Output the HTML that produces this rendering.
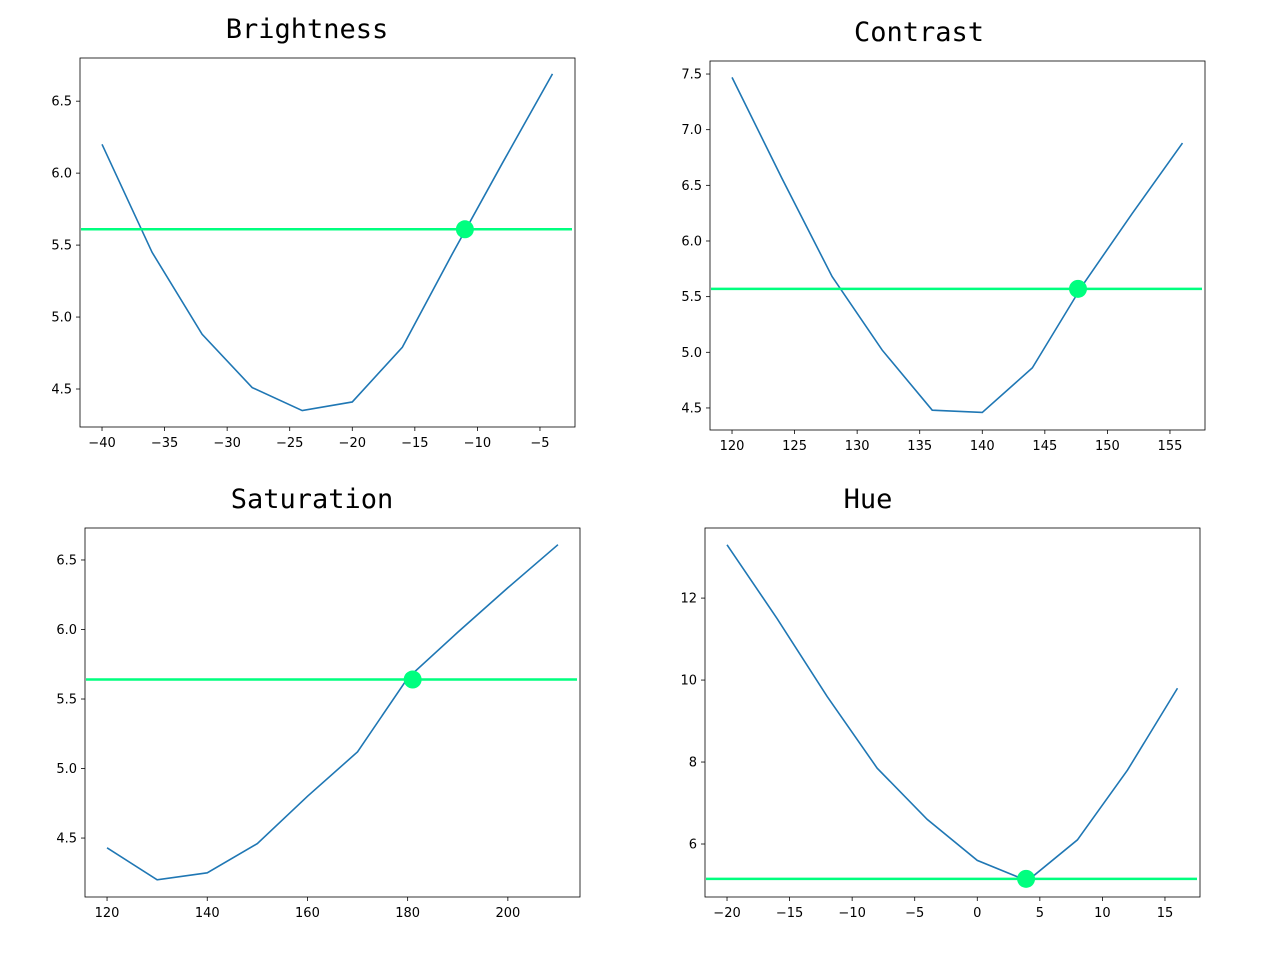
<!DOCTYPE html>
<html><head><meta charset="utf-8"><style>
body{margin:0;background:#fff;}
svg text{font-family:"DejaVu Sans","Liberation Sans",sans-serif;}
.t{font-family:"DejaVu Sans Mono","Liberation Mono",monospace !important;font-size:27px;}
</style></head><body>
<svg id="c" width="1280" height="960" xmlns="http://www.w3.org/2000/svg"></svg>
<script>
const bX=[-40,-36,-32,-28,-24,-20,-16,-12,-8,-4];
const bY=[6.2,5.45,4.88,4.51,4.35,4.41,4.79,5.44,6.07,6.69];
const bXT=[-40,-35,-30,-25,-20,-15,-10,-5];
const bYT=[4.5,5.0,5.5,6.0,6.5];
const bRef=5.61, bPt=-11.0;
const cX=[120,124,128,132,136,140,144,148,152,156];
const cY=[7.47,6.56,5.68,5.02,4.48,4.46,4.86,5.6,6.25,6.88];
const cXT=[120,125,130,135,140,145,150,155];
const cYT=[4.5,5.0,5.5,6.0,6.5,7.0,7.5];
const cRef=5.57, cPt=147.65;
const sX=[120,130,140,150,160,170,180,190,200,210];
const sY=[4.43,4.2,4.25,4.46,4.8,5.12,5.65,5.98,6.3,6.61];
const sXT=[120,140,160,180,200];
const sYT=[4.5,5.0,5.5,6.0,6.5];
const sRef=5.64, sPt=181;
const hX=[-20,-16,-12,-8,-4,0,4,8,12,16];
const hY=[13.3,11.5,9.6,7.85,6.6,5.6,5.1,6.1,7.8,9.8];
const hXT=[-20,-15,-10,-5,0,5,10,15];
const hYT=[6,8,10,12];
const hRef=5.15, hPt=3.9;

const NS="http://www.w3.org/2000/svg", svg=document.getElementById('c');
function mk(tag,attrs,parent){const e=document.createElementNS(NS,tag);for(const k in attrs)e.setAttribute(k,attrs[k]);(parent||svg).appendChild(e);return e;}
function fmt(v,dec){const s=v.toFixed(dec);return s.replace('-','\u2212');}
function panel(name,title,box,xr,yr,xs,ys,xt,yt,ydec,ref,pt,titleX,titleY){
  const g=mk('g',{});
  
  
  const [L,T,R,B]=box;
  const X=v=>L+(v-xr[0])/(xr[1]-xr[0])*(R-L);
  const Y=v=>B-(v-yr[0])/(yr[1]-yr[0])*(B-T);
  const tt=mk('text',{x:titleX,y:titleY,'text-anchor':'middle',class:'t',fill:'#000'},g);
  tt.textContent=title;
  
  
  xt.forEach(v=>{
    mk('line',{x1:X(v),x2:X(v),y1:B,y2:B+4,stroke:'#000','stroke-width':0.8},g);
    const t=mk('text',{x:X(v),y:B+20,'text-anchor':'middle','font-size':13,fill:'#000'},g);
    t.textContent=fmt(v,0);
    
    
  });
  yt.forEach(v=>{
    mk('line',{x1:L-4,x2:L,y1:Y(v),y2:Y(v),stroke:'#000','stroke-width':0.8},g);
    const t=mk('text',{x:L-8,y:Y(v)+4.5,'text-anchor':'end','font-size':13,fill:'#000'},g);
    t.textContent=fmt(v,ydec);
    
    
  });
  const cp='cp-'+name;
  const cl=mk('clipPath',{id:cp},g);mk('rect',{x:L,y:T,width:R-L,height:B-T},cl);
  const p=mk('polyline',{points:xs.map((x,i)=>X(x)+','+Y(ys[i])).join(' '),fill:'none',stroke:'#1f77b4','stroke-width':1.6,'clip-path':`url(#${cp})`},g);
  
  
  const h=mk('line',{x1:L+1,x2:R-3,y1:Y(ref),y2:Y(ref),stroke:'#00ff7f','stroke-width':2.5},g);
  
  
  const c=mk('circle',{cx:X(pt),cy:Y(ref),r:9,fill:'#00ff7f'},g);
  
  
  const fr=mk('rect',{x:L,y:T,width:R-L,height:B-T,fill:'none',stroke:'#000','stroke-width':0.8},g);
  
  
}
panel('brightness','Brightness',[80,58,575,427],[-41.76,-2.2],[4.236,6.80],bX,bY,bXT,bYT,1,bRef,bPt,307,38);
panel('contrast','Contrast',[710,61,1205,430],[118.24,157.8],[4.302,7.617],cX,cY,cXT,cYT,1,cRef,cPt,919,41);
panel('saturation','Saturation',[85,528,580,897],[115.6,214.4],[4.076,6.73],sX,sY,sXT,sYT,1,sRef,sPt,312,508);
panel('hue','Hue',[705,528,1200,897],[-21.76,17.8],[4.707,13.71],hX,hY,hXT,hYT,0,hRef,hPt,868,508);
</script>
</body></html>
